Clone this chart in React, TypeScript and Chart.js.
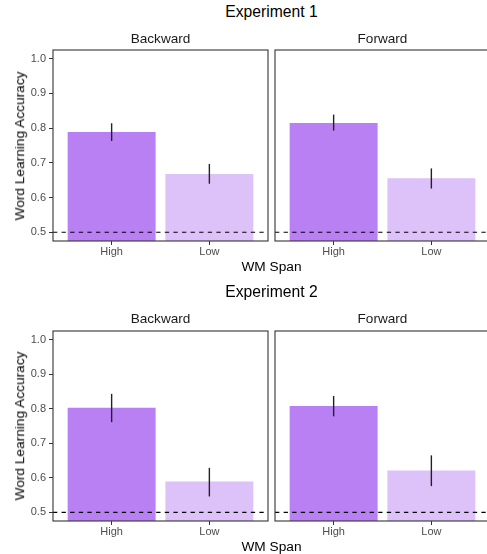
import React, { useEffect, useRef } from "react";
import { Chart, registerables } from "chart.js";

Chart.register(...registerables);

// ---- data ----
const categories = ["High", "Low"];
const categoryPositions = [1, 2];
const yTicks = [0.5, 0.6, 0.7, 0.8, 0.9, 1.0];
const chanceLevel = 0.5;
const yMin = 0.475;
const yMax = 1.025;
const xMin = 0.4;
const xMax = 2.6;

const exp1BackwardMeans = [0.789, 0.668];
const exp1BackwardLower = [0.763, 0.64];
const exp1BackwardUpper = [0.814, 0.697];

const exp1ForwardMeans = [0.815, 0.656];
const exp1ForwardLower = [0.793, 0.626];
const exp1ForwardUpper = [0.839, 0.684];

const exp2BackwardMeans = [0.803, 0.589];
const exp2BackwardLower = [0.761, 0.546];
const exp2BackwardUpper = [0.843, 0.629];

const exp2ForwardMeans = [0.808, 0.621];
const exp2ForwardLower = [0.778, 0.576];
const exp2ForwardUpper = [0.837, 0.665];

const barColors = ["#b880f2", "#ddc1f9"];
const FONT = '"Liberation Sans", Arial, Helvetica, sans-serif';

type PanelProps = {
  left: number;
  top: number;
  width: number;
  height: number;
  means: number[];
  lower: number[];
  upper: number[];
  showY: boolean;
  padLeft: number;
  padRight: number;
  padTop: number;
};

function Panel(p: PanelProps) {
  const ref = useRef<HTMLCanvasElement | null>(null);
  useEffect(() => {
    if (!ref.current) return;
    const overlay = {
      id: "overlay",
      afterDatasetsDraw(chart: any) {
        const { ctx, chartArea } = chart;
        const xs = chart.scales.x;
        const ys = chart.scales.y;
        ctx.save();
        // chance line
        ctx.beginPath();
        ctx.setLineDash([4.3, 4.3]);
        ctx.strokeStyle = "#000";
        ctx.lineWidth = 1.1;
        const yc = ys.getPixelForValue(chanceLevel);
        ctx.moveTo(chartArea.left, yc);
        ctx.lineTo(chartArea.right, yc);
        ctx.stroke();
        ctx.setLineDash([]);
        // error bars
        ctx.strokeStyle = "#222";
        ctx.lineWidth = 1.4;
        categoryPositions.forEach((xv, i) => {
          const x = xs.getPixelForValue(xv);
          ctx.beginPath();
          ctx.moveTo(x, ys.getPixelForValue(p.lower[i]));
          ctx.lineTo(x, ys.getPixelForValue(p.upper[i]));
          ctx.stroke();
        });
        // panel box
        ctx.strokeStyle = "#333";
        ctx.lineWidth = 1.1;
        ctx.strokeRect(
          chartArea.left,
          chartArea.top,
          chartArea.right - chartArea.left,
          chartArea.bottom - chartArea.top
        );
        ctx.restore();
      },
    };
    const chart = new Chart(ref.current, {
      type: "bar",
      data: {
        datasets: [
          {
            data: categoryPositions.map((x, i) => ({ x, y: p.means[i] })),
            backgroundColor: barColors,
            borderWidth: 0,
            barPercentage: 0.9,
            categoryPercentage: 1,
          },
        ],
      },
      options: {
        responsive: false,
        animation: false,
        events: [],
        layout: {
          padding: { left: p.padLeft, right: p.padRight, top: p.padTop, bottom: 0 },
        },
        plugins: { legend: { display: false }, tooltip: { enabled: false } },
        scales: {
          x: {
            type: "linear",
            min: xMin,
            max: xMax,
            offset: false,
            afterBuildTicks: (s: any) => {
              s.ticks = categoryPositions.map((v) => ({ value: v }));
            },
            afterFit: (s: any) => {
              s.height = 20;
            },
            ticks: {
              autoSkip: false,
              maxRotation: 0,
              padding: 0,
              color: "#4d4d4d",
              font: { family: FONT, size: 11 },
              callback: (_v: any, i: number) => categories[i],
            },
            grid: {
              display: true,
              drawOnChartArea: false,
              drawTicks: true,
              tickLength: 4,
              color: "#333",
              offset: false,
            },
            border: { display: false },
          },
          y: {
            type: "linear",
            display: p.showY,
            min: yMin,
            max: yMax,
            afterBuildTicks: (s: any) => {
              s.ticks = yTicks.map((v) => ({ value: v }));
            },
            afterFit: (s: any) => {
              s.width = p.showY ? 53 : 0;
            },
            ticks: {
              padding: 3,
              color: "#4d4d4d",
              font: { family: FONT, size: 11 },
              callback: (v: any) => Number(v).toFixed(1),
            },
            grid: {
              display: true,
              drawOnChartArea: false,
              drawTicks: true,
              tickLength: 4,
              color: "#333",
            },
            border: { display: false },
          },
        },
      },
      plugins: [overlay],
    } as any);
    return () => chart.destroy();
  }, []);
  return (
    <canvas
      ref={ref}
      width={p.width}
      height={p.height}
      style={{
        position: "absolute",
        left: p.left,
        top: p.top,
        width: p.width,
        height: p.height,
      }}
    />
  );
}

function Label(props: {
  x: number;
  y: number;
  text: string;
  size: number;
  color?: string;
  rotate?: boolean;
}) {
  return (
    <div
      style={{
        position: "absolute",
        left: props.x,
        top: props.y,
        transform: `translate(-50%, -50%)${props.rotate ? " rotate(-90deg)" : ""}`,
        fontSize: props.size,
        lineHeight: 1,
        color: props.color || "#000",
        whiteSpace: "nowrap",
        fontFamily: FONT,
      }}
    >
      {props.text}
    </div>
  );
}

function Experiment(props: {
  title: string;
  offset: number;
  areaTop: number;
  areaHeight: number;
  bMeans: number[];
  bLower: number[];
  bUpper: number[];
  fMeans: number[];
  fLower: number[];
  fUpper: number[];
}) {
  const o = props.offset;
  const padTop = 12;
  const canvasTop = props.areaTop - padTop;
  const canvasHeight = padTop + props.areaHeight + 20;
  const areaMid = props.areaTop + props.areaHeight / 2;
  return (
    <>
      <Panel
        left={0}
        top={canvasTop}
        width={270}
        height={canvasHeight}
        means={props.bMeans}
        lower={props.bLower}
        upper={props.bUpper}
        showY={true}
        padLeft={0}
        padRight={2}
        padTop={padTop}
      />
      <Panel
        left={273}
        top={canvasTop}
        width={219}
        height={canvasHeight}
        means={props.fMeans}
        lower={props.fLower}
        upper={props.fUpper}
        showY={false}
        padLeft={2}
        padRight={2}
        padTop={padTop}
      />
      <Label x={271.5} y={o + 12} text={props.title} size={15.7} />
      <Label x={160.5} y={o + 38.5} text="Backward" size={13.6} color="#1a1a1a" />
      <Label x={382.5} y={o + 38.5} text="Forward" size={13.6} color="#1a1a1a" />
      <Label x={20} y={areaMid} text="Word Learning Accuracy" size={13.7} rotate />
      <Label x={271.5} y={o + 266.5} text="WM Span" size={13.7} />
    </>
  );
}

export default function App() {
  return (
    <div
      style={{
        position: "fixed",
        left: 0,
        top: 0,
        width: 487,
        height: 554,
        overflow: "hidden",
        background: "#fff",
      }}
    >
      <Experiment
        title="Experiment 1"
        offset={0}
        areaTop={50}
        areaHeight={191}
        bMeans={exp1BackwardMeans}
        bLower={exp1BackwardLower}
        bUpper={exp1BackwardUpper}
        fMeans={exp1ForwardMeans}
        fLower={exp1ForwardLower}
        fUpper={exp1ForwardUpper}
      />
      <Experiment
        title="Experiment 2"
        offset={280}
        areaTop={331}
        areaHeight={190}
        bMeans={exp2BackwardMeans}
        bLower={exp2BackwardLower}
        bUpper={exp2BackwardUpper}
        fMeans={exp2ForwardMeans}
        fLower={exp2ForwardLower}
        fUpper={exp2ForwardUpper}
      />
    </div>
  );
}
